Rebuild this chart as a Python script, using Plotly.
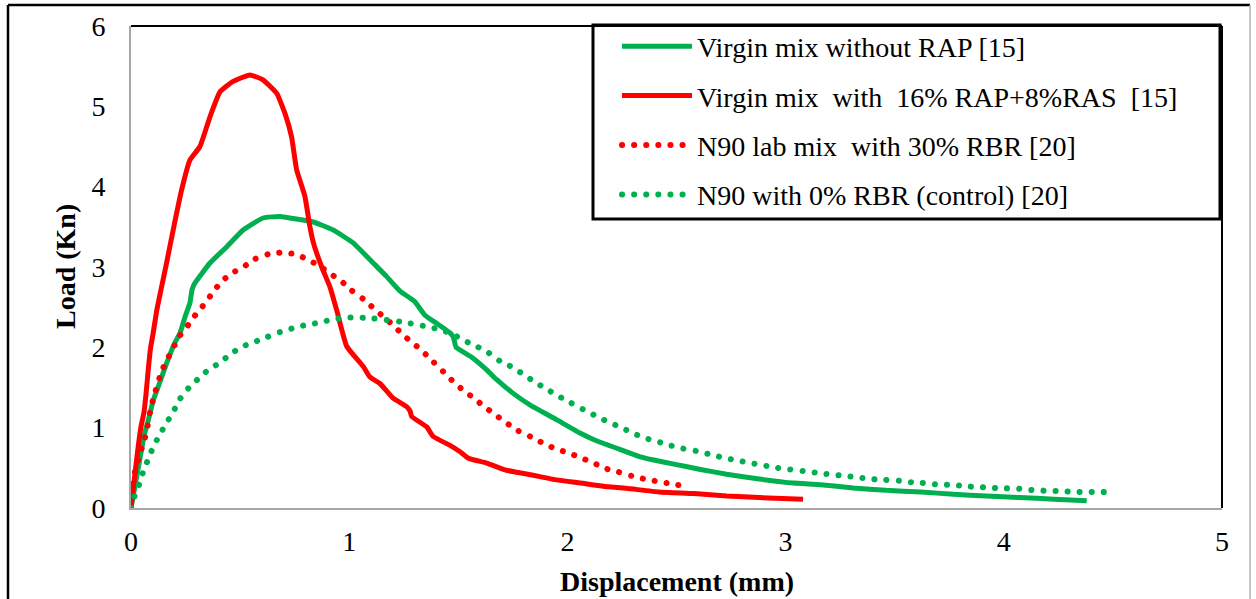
import plotly.graph_objects as go

# ---------------- data ----------------
green_solid_name = "Virgin mix without RAP [15]"
green_solid_x = [0, 0.02, 0.04, 0.06, 0.08, 0.102, 0.13, 0.163, 0.2, 0.225, 0.25, 0.27, 0.28, 0.293,
                 0.362, 0.438, 0.514, 0.605, 0.683, 0.775, 0.836, 0.927, 1.018, 1.11, 1.172, 1.233,
                 1.30, 1.347, 1.40, 1.462, 1.477, 1.49, 1.56, 1.63, 1.675, 1.75, 1.83, 1.95, 2.06,
                 2.13, 2.24, 2.33, 2.39, 2.50, 2.61, 2.73, 2.88, 3.035, 3.16, 3.31, 3.46, 3.62, 3.77,
                 3.92, 4.07, 4.23, 4.38]
green_solid_y = [0, 0.3, 0.6, 0.9, 1.1, 1.34, 1.55, 1.80, 2.05, 2.18, 2.4, 2.55, 2.72, 2.80,
                 3.05, 3.25, 3.46, 3.61, 3.63, 3.59, 3.56, 3.46, 3.30, 3.05, 2.88, 2.70,
                 2.57, 2.40, 2.30, 2.18, 2.13, 2.00, 1.88, 1.72, 1.60, 1.43, 1.28, 1.10, 0.93,
                 0.84, 0.73, 0.64, 0.60, 0.54, 0.48, 0.42, 0.36, 0.31, 0.29, 0.25, 0.22, 0.20, 0.17,
                 0.15, 0.13, 0.11, 0.09]

red_solid_name = "Virgin\u00a0mix\u00a0\u00a0with\u00a0\u00a016%\u00a0RAP+8%RAS\u00a0\u00a0[15]"
red_solid_x = [0, 0.015, 0.03, 0.045, 0.06, 0.07, 0.08, 0.09, 0.1, 0.118, 0.14, 0.163, 0.20, 0.232,
               0.27, 0.316, 0.362, 0.408, 0.468, 0.545, 0.605, 0.668, 0.706, 0.736, 0.759, 0.797,
               0.82, 0.836, 0.874, 0.912, 0.943, 0.989, 1.065, 1.095, 1.141, 1.20, 1.264, 1.28,
               1.286, 1.355, 1.385, 1.462, 1.508, 1.546, 1.63, 1.72, 1.80, 1.874, 1.95, 2.06,
               2.165, 2.27, 2.42, 2.58, 2.73, 2.88, 3.08]
red_solid_y = [0, 0.35, 0.7, 1.0, 1.2, 1.45, 1.75, 2.0, 2.15, 2.46, 2.75, 3.05, 3.55, 3.96,
               4.33, 4.50, 4.87, 5.18, 5.31, 5.39, 5.33, 5.16, 4.91, 4.62, 4.21, 3.88,
               3.50, 3.30, 3.00, 2.75, 2.46, 2.01, 1.76, 1.63, 1.55, 1.37, 1.26, 1.20,
               1.14, 1.01, 0.89, 0.78, 0.70, 0.62, 0.56, 0.47, 0.43, 0.39, 0.35, 0.31,
               0.27, 0.245, 0.20, 0.18, 0.15, 0.13, 0.11]

red_dot_name = "N90\u00a0lab\u00a0mix\u00a0\u00a0with\u00a030%\u00a0RBR\u00a0[20]"
red_dot_x = [0, 0.003, 0.01, 0.026, 0.044, 0.064, 0.076, 0.087, 0.1, 0.14, 0.17, 0.225, 0.263,
             0.30, 0.34, 0.377, 0.415, 0.46, 0.515, 0.568, 0.629, 0.69, 0.752, 0.805, 0.859,
             0.912, 0.965, 1.01, 1.065, 1.11, 1.157, 1.20, 1.248, 1.294, 1.34, 1.385, 1.43,
             1.478, 1.52, 1.57, 1.62, 1.67, 1.72, 1.775, 1.83, 1.886, 1.943, 2.0, 2.058, 2.12,
             2.177, 2.233, 2.294, 2.355, 2.417, 2.478, 2.54]
red_dot_y = [0, 0.1, 0.35, 0.54, 0.70, 0.87, 1.02, 1.19, 1.34, 1.70, 1.87, 2.15, 2.28,
             2.42, 2.55, 2.69, 2.82, 2.92, 3.00, 3.10, 3.16, 3.18, 3.16, 3.10, 3.02,
             2.92, 2.82, 2.71, 2.60, 2.49, 2.38, 2.28, 2.15, 2.05, 1.94, 1.82, 1.70,
             1.57, 1.47, 1.37, 1.26, 1.16, 1.06, 0.96, 0.89, 0.81, 0.74, 0.69, 0.63, 0.56,
             0.49, 0.45, 0.40, 0.36, 0.33, 0.30, 0.27]

green_dot_name = "N90\u00a0with\u00a00%\u00a0RBR\u00a0(control)\u00a0[20]"
green_dot_x = [0, 0.018, 0.037, 0.056, 0.079, 0.102, 0.133, 0.163, 0.194, 0.225, 0.263, 0.309,
               0.355, 0.408, 0.457, 0.511, 0.568, 0.625, 0.683, 0.744, 0.805, 0.866, 0.927,
               0.989, 1.05, 1.11, 1.172, 1.233, 1.294, 1.355, 1.416, 1.47, 1.53, 1.585, 1.64,
               1.69, 1.75, 1.80, 1.85, 1.905, 1.96, 2.015, 2.07, 2.12, 2.18, 2.24, 2.294, 2.35,
               2.41, 2.47, 2.53, 2.59, 2.65, 2.71, 2.78, 2.84, 2.90, 2.96, 3.02, 3.08, 3.14,
               3.20, 3.27, 3.33, 3.39, 3.455, 3.52, 3.58, 3.64, 3.70, 3.76, 3.825, 3.89, 3.95,
               4.01, 4.07, 4.14, 4.20, 4.26, 4.32, 4.39, 4.44, 4.51]
green_dot_y = [0, 0.16, 0.29, 0.45, 0.61, 0.76, 0.92, 1.06, 1.20, 1.36, 1.49, 1.61,
               1.72, 1.81, 1.92, 2.01, 2.07, 2.13, 2.19, 2.24, 2.28, 2.31, 2.35,
               2.37, 2.37, 2.36, 2.34, 2.32, 2.29, 2.26, 2.22, 2.17, 2.08, 2.01, 1.93,
               1.83, 1.75, 1.66, 1.57, 1.48, 1.39, 1.31, 1.23, 1.16, 1.08, 1.01, 0.94, 0.875,
               0.83, 0.78, 0.74, 0.71, 0.67, 0.63, 0.59, 0.56, 0.53, 0.50, 0.48, 0.46, 0.44,
               0.42, 0.40, 0.38, 0.36, 0.35, 0.34, 0.32, 0.31, 0.29, 0.29, 0.27, 0.26, 0.25,
               0.245, 0.24, 0.22, 0.215, 0.21, 0.20, 0.20, 0.20, 0.19]

x_ticks = [0, 1, 2, 3, 4, 5]
y_ticks = [0, 1, 2, 3, 4, 5, 6]
x_title = "Displacement (mm)"
y_title = "Load (Kn)"

GREEN = "#00b050"
RED = "#ff0000"
FONT = "'Liberation Serif', 'Times New Roman', serif"

# pixel -> paper helpers for the frame decorations (plot area 131..1222 x, 26..508 y)
def px(xp):
    return (xp - 131) / 1091.0

def py(yp):
    return (508 - yp) / 482.0

fig = go.Figure()
series = [
    (green_solid_name, green_solid_x, green_solid_y, GREEN, "solid"),
    (red_solid_name, red_solid_x, red_solid_y, RED, "solid"),
    (red_dot_name, red_dot_x, red_dot_y, RED, "1px,11px"),
    (green_dot_name, green_dot_x, green_dot_y, GREEN, "1px,11px"),
]
for i, (nm, xs, ys, col, dash) in enumerate(series):
    fig.add_trace(go.Scatter(
        x=xs, y=ys, name=nm, mode="lines", legendgroup=f"g{i}",
        line=dict(color=col, width=5 if dash == "solid" else 6, dash=dash, shape="spline", smoothing=0.4),
    ))

fig.update_layout(
    width=1256, height=599,
    margin=dict(l=131, r=34, t=26, b=91),
    paper_bgcolor="white", plot_bgcolor="white",
    font=dict(family=FONT, size=28, color="black"),
    showlegend=True,
    legend=dict(
        x=px(599), y=py(21.5), xanchor="left", yanchor="top",
        borderwidth=0, bgcolor="rgba(0,0,0,0)",
        font=dict(family=FONT, size=28, color="black"),
        tracegroupgap=10, itemwidth=70, indentation=18,
        traceorder="grouped",
    ),
    xaxis=dict(
        range=[0, 5], tickvals=x_ticks, showgrid=False, zeroline=False,
        showline=True, linecolor="#a6a6a6", linewidth=2, ticks="",
        ticklabelstandoff=7, tickfont=dict(family=FONT, size=28),
        automargin=False,
    ),
    yaxis=dict(
        range=[0, 6], tickvals=y_ticks, showgrid=False, zeroline=False,
        showline=True, linecolor="#a6a6a6", linewidth=2, ticks="",
        ticklabelstandoff=18, tickfont=dict(family=FONT, size=28),
        automargin=False,
    ),
    annotations=[
        dict(text="<b>" + x_title + "</b>", xref="paper", yref="paper", x=0.5, y=py(581),
             xanchor="center", yanchor="middle", showarrow=False,
             font=dict(family=FONT, size=28, color="black")),
        dict(text="<b>" + y_title + "</b>", xref="paper", yref="paper", x=px(65), y=0.5,
             xanchor="center", yanchor="middle", showarrow=False, textangle=-90,
             font=dict(family=FONT, size=28, color="black")),
    ],
    shapes=[
        # legend box
        dict(type="rect", xref="paper", yref="paper", x0=px(593), x1=px(1220), y0=py(219), y1=py(25),
             line=dict(color="black", width=3), fillcolor="white", layer="above"),
        # plot frame top and right (black)
        dict(type="line", xref="paper", yref="paper", x0=0, x1=1, y0=1, y1=1,
             line=dict(color="black", width=2)),
        dict(type="line", xref="paper", yref="paper", x0=1, x1=1, y0=0, y1=1,
             line=dict(color="black", width=2)),
        # outer chart frame
        dict(type="line", xref="paper", yref="paper", x0=px(8), x1=px(8),
             y0=py(600), y1=py(5), line=dict(color="black", width=2.5)),
        dict(type="line", xref="paper", yref="paper", x0=px(8), x1=px(1250),
             y0=py(5), y1=py(5), line=dict(color="black", width=2.5)),
        dict(type="line", xref="paper", yref="paper", x0=px(1250), x1=px(1250),
             y0=py(600), y1=py(5), line=dict(color="#b0b0b0", width=1.5)),
    ],
)

post = """
var gd = document.getElementById('{plot_id}');
function fixDots(){
  gd.querySelectorAll('path.js-line').forEach(function(p){
    var d = p.style.strokeDasharray || '';
    if (d.indexOf('11') >= 0) {
      p.style.strokeLinecap = 'round';
      p.style.strokeDasharray = '0.1px, 12px';
    }
  });
}
fixDots();
gd.on('plotly_afterplot', fixDots);
"""
fig.write_html("out.html", post_script=post)
